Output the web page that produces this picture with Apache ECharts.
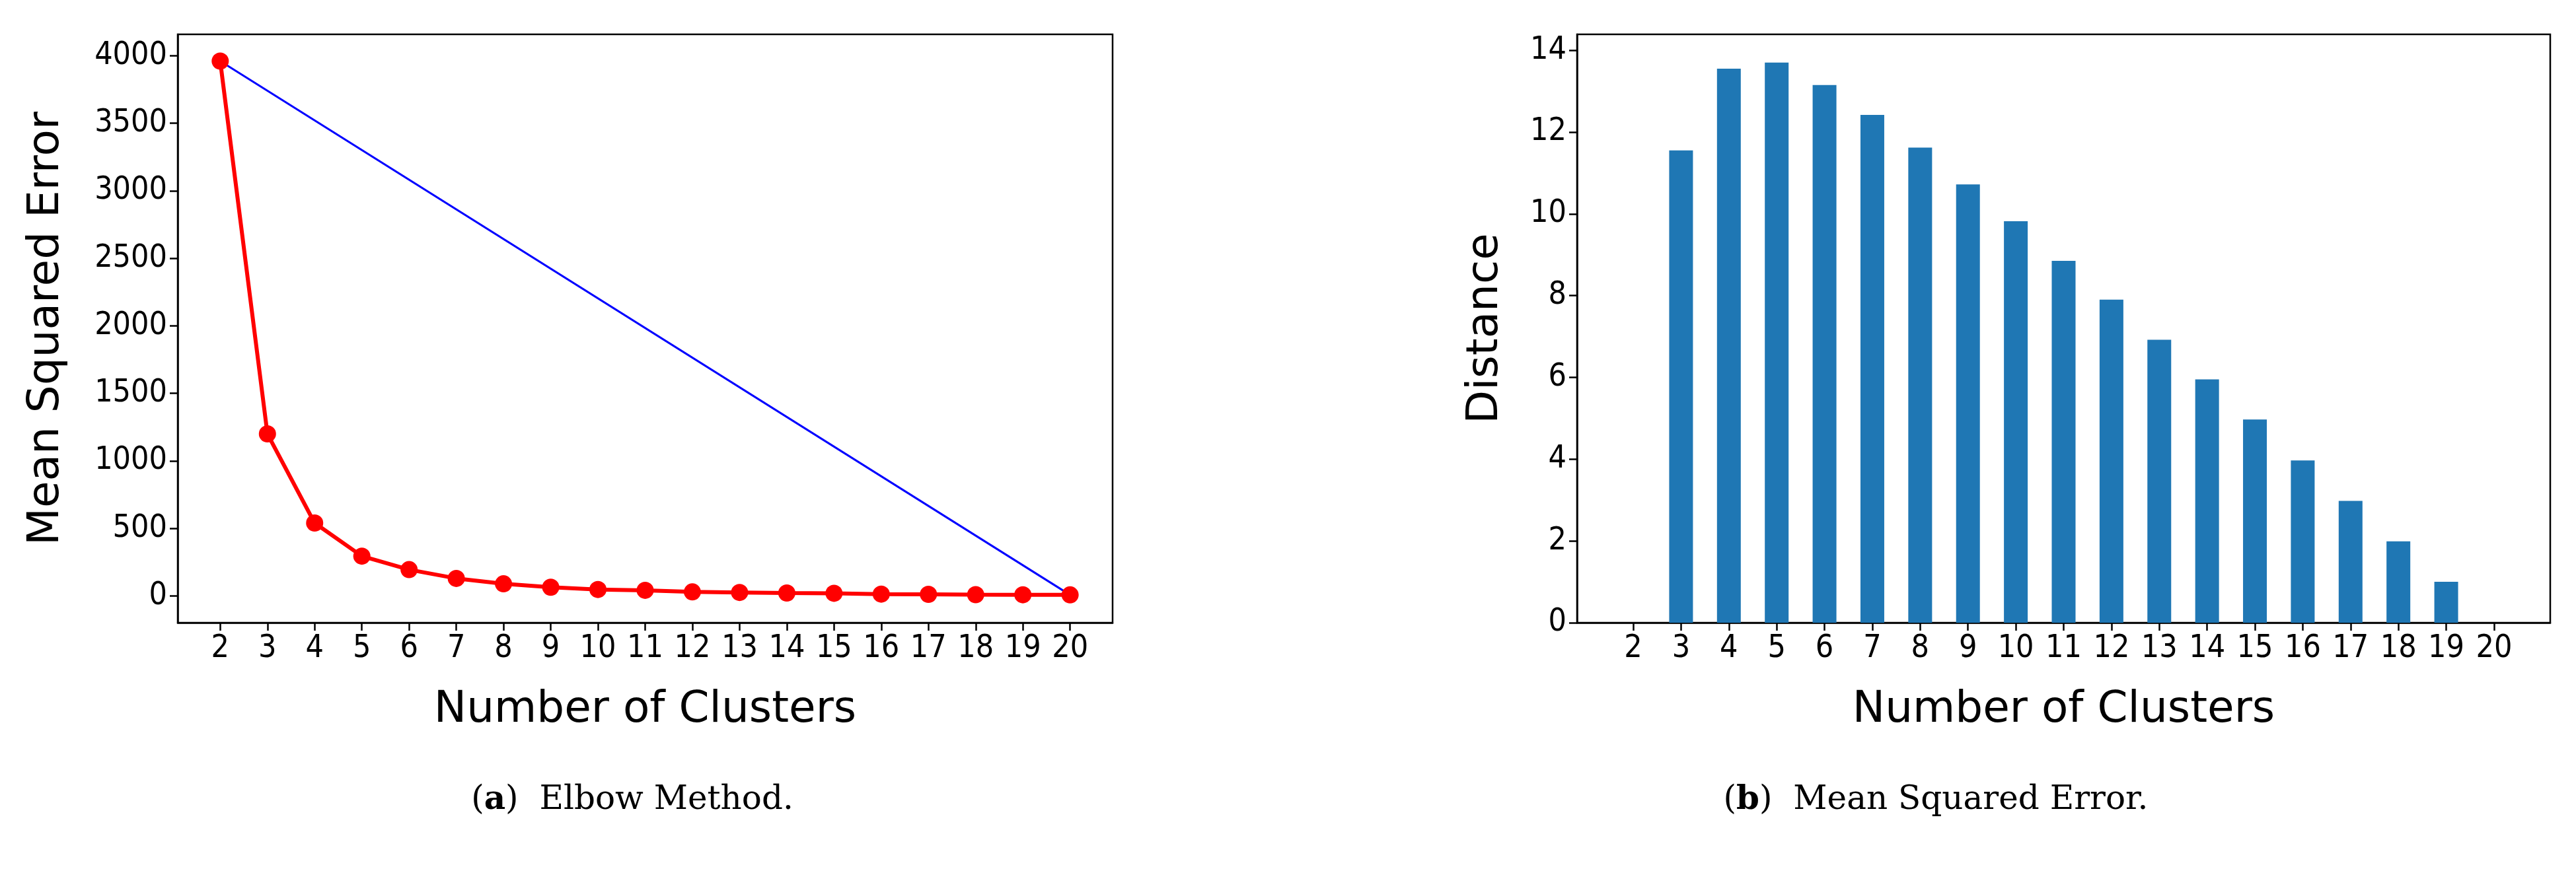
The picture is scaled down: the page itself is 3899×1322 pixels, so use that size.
<!DOCTYPE html>
<html><head><meta charset="utf-8">
<script src="https://cdn.jsdelivr.net/npm/echarts@6/dist/echarts.min.js"></script>
<style>html,body{margin:0;padding:0;background:#fff}#c{width:3899px;height:1322px}</style>
</head><body><div id="c"></div>
<script>
const clusters = [2,3,4,5,6,7,8,9,10,11,12,13,14,15,16,17,18,19,20];
const mse = [3960,1200,540,295,195,130,90,65,48,42,30,26,22,20,14,12,10,9,8];
const distance = [0,11.55,13.55,13.7,13.15,12.42,11.62,10.72,9.82,8.85,7.9,6.92,5.95,4.97,3.97,2.98,1.99,1.0,0];
const mseTicks = [0,500,1000,1500,2000,2500,3000,3500,4000];
const distTicks = [0,2,4,6,8,10,12,14];

const FONT = 'DejaVu Sans Condensed, DejaVu Sans';
const lbl = {color:'#000', fontSize:48, fontFamily:FONT, margin:16, formatter:v=>String(v)};
const axLine = {show:true, onZero:false, lineStyle:{color:'#000', width:2.5}};
const tick = {show:true, length:12, lineStyle:{color:'#000', width:2.5}};
const titleStyle = {fontSize:66, fontFamily:'DejaVu Sans', color:'#000'};
function xAxis(gi){
  return {type:'value', gridIndex:gi, min:gi===0?1.1:0.825, max:gi===0?20.9:21.175,
    axisLine:axLine, axisTick:Object.assign({customValues:clusters},tick),
    axisLabel:Object.assign({customValues:clusters},lbl), splitLine:{show:false},
    name:'Number of Clusters', nameLocation:'middle', nameGap:100, nameTextStyle:titleStyle};
}
const chart = echarts.init(document.getElementById('c'));
chart.setOption({
  backgroundColor:'#fff', animation:false,
  grid:[
    {left:269, top:52, width:1415, height:891, show:true, borderColor:'#000', borderWidth:2.5, backgroundColor:'transparent'},
    {left:2387, top:52, width:1473, height:891, show:true, borderColor:'#000', borderWidth:2.5, backgroundColor:'transparent'}
  ],
  xAxis:[xAxis(0), xAxis(1)],
  yAxis:[
    {type:'value', gridIndex:0, min:-198, max:4158, axisLine:axLine,
     axisTick:Object.assign({customValues:mseTicks},tick), axisLabel:Object.assign({customValues:mseTicks},lbl),
     splitLine:{show:false}, name:'Mean Squared Error', nameLocation:'middle', nameGap:165, nameTextStyle:titleStyle},
    {type:'value', gridIndex:1, min:0, max:14.39, axisLine:axLine,
     axisTick:Object.assign({customValues:distTicks},tick), axisLabel:Object.assign({customValues:distTicks},lbl),
     splitLine:{show:false}, name:'Distance', nameLocation:'middle', nameGap:105, nameTextStyle:titleStyle}
  ],
  series:[
    {type:'line', xAxisIndex:0, yAxisIndex:0, data:[[clusters[0],mse[0]],[clusters[clusters.length-1],mse[mse.length-1]]],
     symbol:'none', lineStyle:{color:'#0000ff', width:3}, z:2},
    {type:'line', xAxisIndex:0, yAxisIndex:0, data:clusters.map((c,i)=>[c,mse[i]]),
     symbol:'circle', symbolSize:26, itemStyle:{color:'#ff0000'}, lineStyle:{color:'#ff0000', width:6}, z:3},
    {type:'bar', xAxisIndex:1, yAxisIndex:1, data:clusters.map((c,i)=>[c,distance[i]]),
     barWidth:36, itemStyle:{color:'#1f77b4'}}
  ],
  graphic:[
    {type:'text', x:957, y:1212, style:{rich:{b:{fontWeight:'bold',fontSize:50,fontFamily:'DejaVu Serif'},n:{fontSize:50,fontFamily:'DejaVu Serif'}},
      text:'{n|(}{b|a}{n|)  Elbow Method.}', align:'center', verticalAlign:'middle', fill:'#000'}},
    {type:'text', x:2930, y:1212, style:{rich:{b:{fontWeight:'bold',fontSize:50,fontFamily:'DejaVu Serif'},n:{fontSize:50,fontFamily:'DejaVu Serif'}},
      text:'{n|(}{b|b}{n|)  Mean Squared Error.}', align:'center', verticalAlign:'middle', fill:'#000'}}
  ]
});
</script></body></html>
